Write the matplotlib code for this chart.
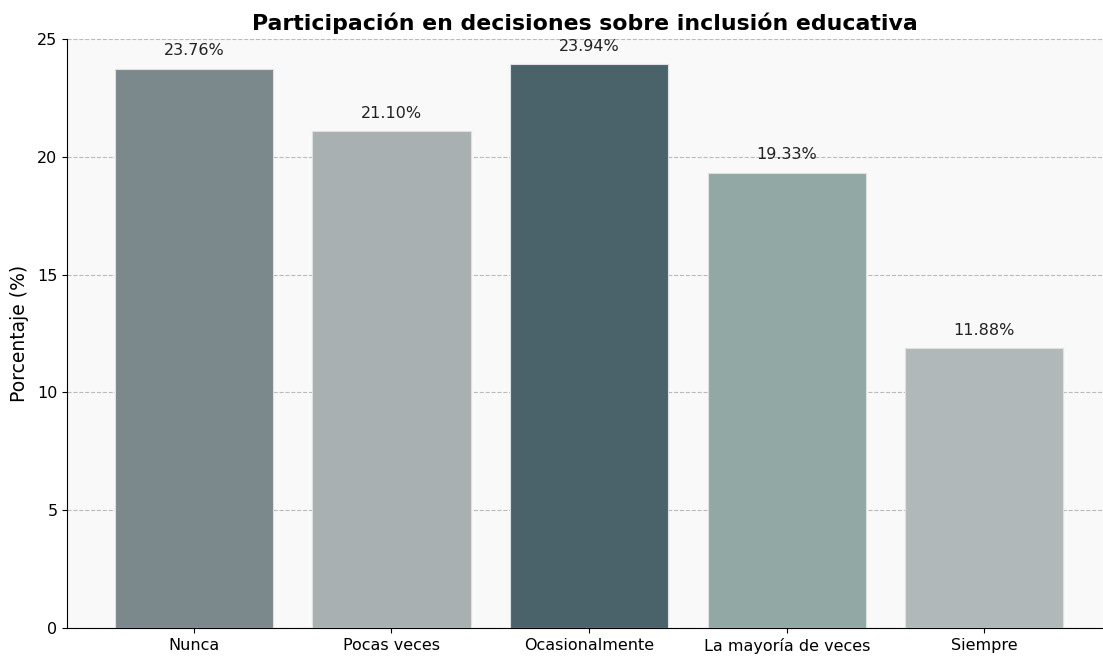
import matplotlib
matplotlib.use("Agg")
import matplotlib.pyplot as plt

plt.rcParams["font.family"] = ["DejaVu Sans"]

categories = ["Nunca", "Pocas veces", "Ocasionalmente", "La mayoría de veces", "Siempre"]
values = [23.76, 21.10, 23.94, 19.33, 11.88]
colors = ["#7b888c", "#a9b0b1", "#4a636a", "#91a8a4", "#b0b8ba"]

fig, ax = plt.subplots(figsize=(11.03, 6.56), dpi=100)
ax.set_facecolor("#f9f9f9")
bars = ax.bar(categories, values, color=colors, width=0.8, edgecolor="#e0e0e0", linewidth=0.8, zorder=3)
for b, v in zip(bars, values):
    ax.text(b.get_x() + b.get_width() / 2, v + 0.45, f"{v:.2f}%", ha="center", va="bottom", fontsize=11.5, color="#222222", zorder=4)

ax.set_ylim(0, 25)
ax.set_xlim(-0.64, 4.6)
ax.set_ylabel("Porcentaje (%)", fontsize=13.5, labelpad=6)
ax.set_title("Participación en decisiones sobre inclusión educativa", fontsize=15.8, fontweight="bold", pad=7)
ax.yaxis.grid(True, linestyle="--", color="#bbbbbb", linewidth=0.8, zorder=0)
ax.spines["top"].set_visible(False)
ax.spines["right"].set_visible(False)
ax.tick_params(labelsize=11.5)
fig.subplots_adjust(left=0.061, right=1.0, top=0.94, bottom=0.043)
fig.savefig("out.png", dpi=100)
